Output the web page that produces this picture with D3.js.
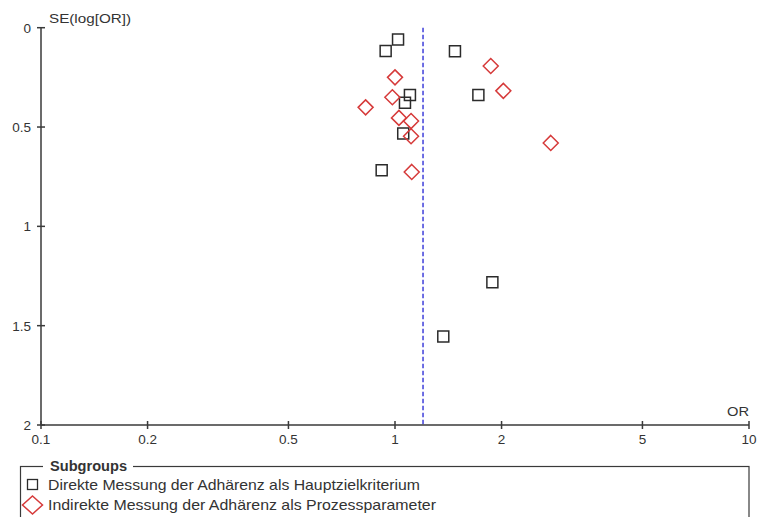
<!DOCTYPE html>
<html>
<head>
<meta charset="utf-8">
<script src="https://cdn.jsdelivr.net/npm/d3@7"></script>
<style>
  html, body { margin: 0; padding: 0; background: #fff; }
  svg { display: block; font-family: Arial, "Liberation Sans", sans-serif; }
</style>
</head>
<body>
<svg id="chart" width="759" height="517"></svg>
<script>
// Funnel plot: odds ratio (log scale) against its standard error, two subgroups.

const xTicks = [0.1, 0.2, 0.5, 1, 2, 5, 10];
const yTicks = [0, 0.5, 1, 1.5, 2];
const pooledOR = 1.2;

const subgroupNames = [
  "Direkte Messung der Adhärenz als Hauptzielkriterium",
  "Indirekte Messung der Adhärenz als Prozessparameter"
];

// Subgroup 1: direct measurement (squares)
const directOR = [1.02, 0.941, 1.477, 1.102, 1.72, 1.067, 1.055, 0.917, 1.884, 1.369];
const directSE = [0.060, 0.117, 0.119, 0.339, 0.339, 0.378, 0.533, 0.718, 1.282, 1.555];

// Subgroup 2: indirect measurement (diamonds)
const indirectOR = [1.0, 0.983, 0.826, 1.026, 1.110, 1.110, 1.115, 1.864, 2.023, 2.754];
const indirectSE = [0.250, 0.350, 0.401, 0.454, 0.470, 0.546, 0.726, 0.193, 0.318, 0.580];

const svg = d3.select("#chart");
const axisColor = "#3a3a3a";
const textColor = "#333";
const squareColor = "#2b2b2b";
const diamondColor = "#d63a3a";

const x = d3.scaleLog().domain([0.1, 10]).range([41, 749]);
const y = d3.scaleLinear().domain([0, 2]).range([27.7, 425]);

// Pooled estimate reference line
svg.append("line")
  .attr("x1", x(pooledOR)).attr("x2", x(pooledOR))
  .attr("y1", y(0)).attr("y2", y(2))
  .attr("stroke", "#4b4bdc")
  .attr("stroke-width", 1.6)
  .attr("stroke-dasharray", "4.5,2.5");

// X axis (ticks cross the axis line)
const xAxis = svg.append("g").attr("transform", `translate(0,${y(2)})`);
xAxis.append("line")
  .attr("x1", x(0.1)).attr("x2", x(10))
  .attr("stroke", axisColor).attr("stroke-width", 1.5);
const xt = xAxis.selectAll("g.tick").data(xTicks).join("g")
  .attr("class", "tick")
  .attr("transform", d => `translate(${x(d)},0)`);
xt.append("line").attr("y1", -4).attr("y2", 4)
  .attr("stroke", axisColor).attr("stroke-width", 1.5);
xt.append("text")
  .attr("y", 18.5).attr("text-anchor", "middle")
  .attr("font-size", 13.5).attr("fill", textColor)
  .text(d => d3.format("~g")(d));

// Y axis
const yAxis = svg.append("g").attr("transform", `translate(${x(0.1)},0)`);
yAxis.append("line")
  .attr("y1", y(0)).attr("y2", y(2))
  .attr("stroke", axisColor).attr("stroke-width", 1.5);
const yt = yAxis.selectAll("g.tick").data(yTicks).join("g")
  .attr("class", "tick")
  .attr("transform", d => `translate(0,${y(d)})`);
yt.append("line").attr("x1", -4).attr("x2", 4)
  .attr("stroke", axisColor).attr("stroke-width", 1.5);
yt.append("text")
  .attr("x", -10).attr("dy", "0.36em").attr("text-anchor", "end")
  .attr("font-size", 13.5).attr("fill", textColor)
  .text(d => d3.format("~g")(d));

// Axis titles
svg.append("text")
  .attr("x", 49).attr("y", 23)
  .attr("font-size", 13.5).attr("fill", textColor)
  .attr("textLength", 82).attr("lengthAdjust", "spacingAndGlyphs")
  .text("SE(log[OR])");
svg.append("text")
  .attr("x", 727).attr("y", 416)
  .attr("font-size", 13.5).attr("fill", textColor)
  .attr("textLength", 22).attr("lengthAdjust", "spacingAndGlyphs")
  .text("OR");

// Marker shapes
const squareSym = d3.symbol().type(d3.symbolSquare).size(121);
function diamondPath(r) {
  return `M0,${-r}L${r},0L0,${r}L${-r},0Z`;
}

const direct = directOR.map((v, i) => ({ or: v, se: directSE[i] }));
const indirect = indirectOR.map((v, i) => ({ or: v, se: indirectSE[i] }));

svg.append("g").selectAll("path").data(direct).join("path")
  .attr("transform", d => `translate(${x(d.or)},${y(d.se)})`)
  .attr("d", squareSym)
  .attr("fill", "none")
  .attr("stroke", squareColor)
  .attr("stroke-width", 1.5);

svg.append("g").selectAll("path").data(indirect).join("path")
  .attr("transform", d => `translate(${x(d.or)},${y(d.se)})`)
  .attr("d", diamondPath(7.5))
  .attr("fill", "none")
  .attr("stroke", diamondColor)
  .attr("stroke-width", 1.5);

// Legend frame with title cut into the top border
const legend = svg.append("g");
legend.append("rect")
  .attr("x", 20.5).attr("y", 466.5)
  .attr("width", 728.5).attr("height", 80)
  .attr("fill", "none")
  .attr("stroke", axisColor).attr("stroke-width", 1.2);
legend.append("rect")
  .attr("x", 43).attr("y", 460)
  .attr("width", 90).attr("height", 12)
  .attr("fill", "#fff");
legend.append("text")
  .attr("x", 50).attr("y", 471)
  .attr("font-size", 14).attr("font-weight", "bold").attr("fill", textColor)
  .attr("textLength", 77).attr("lengthAdjust", "spacingAndGlyphs")
  .text("Subgroups");

legend.append("rect")
  .attr("x", 27.5).attr("y", 479.5)
  .attr("width", 10).attr("height", 10)
  .attr("fill", "none")
  .attr("stroke", squareColor).attr("stroke-width", 1.3);
legend.append("path")
  .attr("transform", "translate(32.5,505)")
  .attr("d", `M0,-9L10,0L0,9L-10,0Z`)
  .attr("fill", "none")
  .attr("stroke", diamondColor).attr("stroke-width", 1.5);

legend.append("text")
  .attr("x", 48).attr("y", 490)
  .attr("font-size", 14.5).attr("fill", textColor)
  .attr("textLength", 372).attr("lengthAdjust", "spacingAndGlyphs")
  .text(subgroupNames[0]);
legend.append("text")
  .attr("x", 48).attr("y", 510)
  .attr("font-size", 14.5).attr("fill", textColor)
  .attr("textLength", 388).attr("lengthAdjust", "spacingAndGlyphs")
  .text(subgroupNames[1]);
</script>
</body>
</html>
